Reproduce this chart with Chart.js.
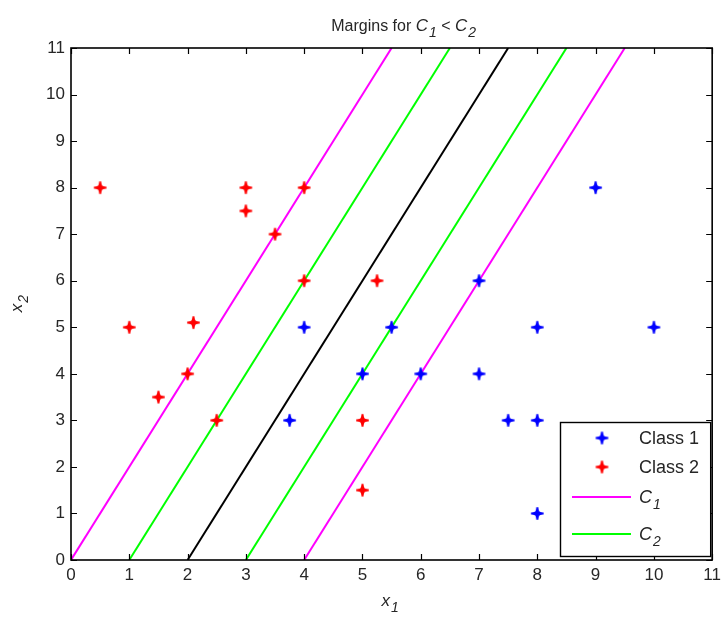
<!DOCTYPE html>
<html>
<head>
<meta charset="utf-8">
<script src="https://cdn.jsdelivr.net/npm/chart.js@4.4.1/dist/chart.umd.min.js"></script>
<style>
    html, body { margin: 0; padding: 0; background: #fff; }
    #wrap { width: 726px; height: 620px; }
</style>
</head>
<body>
<div id="wrap"><canvas id="chart"></canvas></div>
<script>
// data
const class1X = [9, 7, 4, 5.5, 8, 10, 5, 6, 7, 3.75, 7.5, 8, 8];
const class1Y = [8, 6, 5, 5, 5, 5, 4, 4, 4, 3, 3, 3, 1];
const class2X = [0.5, 3, 4, 3, 3.5, 4, 5.25, 1, 2.1, 2, 1.5, 2.5, 5, 5];
const class2Y = [8, 8, 8, 7.5, 7, 6, 6, 5, 5.1, 4, 3.5, 3, 3, 1.5];

// lines x2 = 2*(x1 - a): where each crosses x2 = 0 and x2 = 11
const c1Start = [0, 4];
const c1End = [5.5, 9.5];
const c2Start = [1, 3];
const c2End = [6.5, 8.5];
const midStart = [2];
const midEnd = [7.5];

const ticks = [0, 1, 2, 3, 4, 5, 6, 7, 8, 9, 10, 11];
const FONT = '"Liberation Sans", Arial, sans-serif';
const TEXT = '#262626';

const mapToXY = (xs, ys) => xs.map((x, i) => ({ x, y: ys[i] }));
const segment = (a, b) => [{ x: a, y: 0 }, { x: b, y: 11 }];

// four-point star marker like the one in the figure
function starMarker(color) {
    const c = document.createElement('canvas');
    c.width = 15; c.height = 15;
    const g = c.getContext('2d');
    const r = 6.2, q = 2.1;
    g.translate(7.5, 7.5);
    g.beginPath();
    g.moveTo(0, -r); g.lineTo(q, -q); g.lineTo(r, 0); g.lineTo(q, q);
    g.lineTo(0, r); g.lineTo(-q, q); g.lineTo(-r, 0); g.lineTo(-q, -q);
    g.closePath();
    g.fillStyle = color;
    g.fill();
    g.fillRect(-1.1, -r, 2.2, 2 * r);
    g.fillRect(-r, -1.1, 2 * r, 2.2);
    return c;
}
const blueStar = starMarker('#0000ff');
const redStar = starMarker('#ff0000');

function lineDataset(label, pts, color) {
    return {
        type: 'line', label, data: pts, borderColor: color, backgroundColor: color,
        borderWidth: 2, pointRadius: 0, fill: false, tension: 0,
    };
}

const datasets = [
    { type: 'scatter', label: 'Class 1', data: mapToXY(class1X, class1Y), pointStyle: blueStar, pointRadius: 7 },
    { type: 'scatter', label: 'Class 2', data: mapToXY(class2X, class2Y), pointStyle: redStar, pointRadius: 7 },
];
c1Start.forEach((a, i) => datasets.push(lineDataset('C1', segment(a, c1End[i]), '#ff00ff')));
c2Start.forEach((a, i) => datasets.push(lineDataset('C2', segment(a, c2End[i]), '#00ff00')));
midStart.forEach((a, i) => datasets.push(lineDataset('mid', segment(a, midEnd[i]), '#000000')));

// text with italic letter and subscript, e.g. C_1
function drawSub(ctx, x, y, main, sub, size, align) {
    ctx.save();
    ctx.textBaseline = 'alphabetic';
    ctx.font = `italic ${size}px ${FONT}`;
    const w1 = ctx.measureText(main).width;
    ctx.font = `italic ${Math.round(size * 0.8)}px ${FONT}`;
    const w2 = ctx.measureText(sub).width;
    let sx = x;
    if (align === 'center') sx = x - (w1 + w2) / 2;
    ctx.font = `italic ${size}px ${FONT}`;
    ctx.textAlign = 'left';
    ctx.fillText(main, sx, y);
    ctx.font = `italic ${Math.round(size * 0.8)}px ${FONT}`;
    ctx.fillText(sub, sx + w1 + 1, y + size * 0.35);
    ctx.restore();
    return w1 + w2 + 1;
}

const matlabFrame = {
    id: 'matlabFrame',
    afterDraw(chart) {
        const { ctx, chartArea: a, scales } = chart;
        ctx.save();
        ctx.strokeStyle = '#000';
        ctx.lineWidth = 1.6;
        ctx.strokeRect(a.left, a.top, a.right - a.left, a.bottom - a.top);
        // inward ticks on all sides
        ctx.lineWidth = 1.2;
        ctx.beginPath();
        ticks.forEach(t => {
            const px = Math.round(scales.x.getPixelForValue(t)) + 0.5;
            ctx.moveTo(px, a.bottom); ctx.lineTo(px, a.bottom - 6);
            ctx.moveTo(px, a.top); ctx.lineTo(px, a.top + 6);
            const py = Math.round(scales.y.getPixelForValue(t)) + 0.5;
            ctx.moveTo(a.left, py); ctx.lineTo(a.left + 6, py);
            ctx.moveTo(a.right, py); ctx.lineTo(a.right - 6, py);
        });
        ctx.stroke();

        // legend box
        const lx = 560, ly = 422, lw = a.right - 2 - lx, lh = a.bottom - 4 - ly;
        ctx.fillStyle = '#fff';
        ctx.fillRect(lx, ly, lw, lh);
        ctx.strokeStyle = '#000';
        ctx.lineWidth = 1.4;
        ctx.strokeRect(lx + 0.5, ly + 0.5, lw, lh);
        ctx.fillStyle = TEXT;
        ctx.font = `18px ${FONT}`;
        ctx.textBaseline = 'middle';
        ctx.drawImage(blueStar, 602 - 7.5, 438 - 7.5);
        ctx.fillText('Class 1', 639, 439);
        ctx.drawImage(redStar, 602 - 7.5, 467 - 7.5);
        ctx.fillText('Class 2', 639, 468);
        ctx.lineWidth = 2;
        ctx.strokeStyle = '#ff00ff';
        ctx.beginPath(); ctx.moveTo(572, 497); ctx.lineTo(631, 497); ctx.stroke();
        ctx.strokeStyle = '#00ff00';
        ctx.beginPath(); ctx.moveTo(572, 534); ctx.lineTo(631, 534); ctx.stroke();
        ctx.fillStyle = TEXT;
        drawSub(ctx, 639, 503, 'C', '1', 18, 'left');
        drawSub(ctx, 639, 540, 'C', '2', 18, 'left');

        // title
        ctx.font = `16px ${FONT}`;
        ctx.textBaseline = 'alphabetic';
        const t1 = 'Margins for ';
        const t2 = ' < ';
        const w1 = ctx.measureText(t1).width;
        const w2 = ctx.measureText(t2).width;
        const total = w1 + w2 + 2 * 19;
        let tx = (a.left + a.right) / 2 - total / 2 + 10;
        const ty = 31;
        ctx.textAlign = 'left';
        ctx.fillText(t1, tx, ty); tx += w1;
        tx += drawSub(ctx, tx, ty, 'C', '1', 17, 'left');
        ctx.font = `16px ${FONT}`;
        ctx.fillText(t2, tx, ty); tx += w2;
        drawSub(ctx, tx, ty, 'C', '2', 17, 'left');

        // axis labels
        drawSub(ctx, (a.left + a.right) / 2 - 2, 606, 'x', '1', 17, 'center');
        ctx.translate(22, (a.top + a.bottom) / 2);
        ctx.rotate(-Math.PI / 2);
        drawSub(ctx, 0, 0, 'x', '2', 17, 'center');
        ctx.restore();
    },
};

new Chart(document.getElementById('chart'), {
    data: { datasets },
    options: {
        responsive: true,
        maintainAspectRatio: false,
        animation: false,
        layout: { padding: { top: 48, right: 11, left: 0, bottom: 0 } },
        plugins: { legend: { display: false }, tooltip: { enabled: false }, title: { display: false } },
        scales: {
            x: {
                type: 'linear', min: 0, max: 11,
                grid: { display: false, drawTicks: false },
                border: { display: false },
                afterBuildTicks: s => { s.ticks = ticks.map(v => ({ value: v })); },
                afterFit: s => { s.height = 60; },
                ticks: { color: TEXT, font: { family: FONT, size: 17 }, padding: 5, maxRotation: 0 },
            },
            y: {
                type: 'linear', min: 0, max: 11,
                grid: { display: false, drawTicks: false },
                border: { display: false },
                afterBuildTicks: s => { s.ticks = ticks.map(v => ({ value: v })); },
                afterFit: s => { s.width = 71; },
                ticks: { color: TEXT, font: { family: FONT, size: 17 }, padding: 6 },
            },
        },
    },
    plugins: [matlabFrame],
});
</script>
</body>
</html>
